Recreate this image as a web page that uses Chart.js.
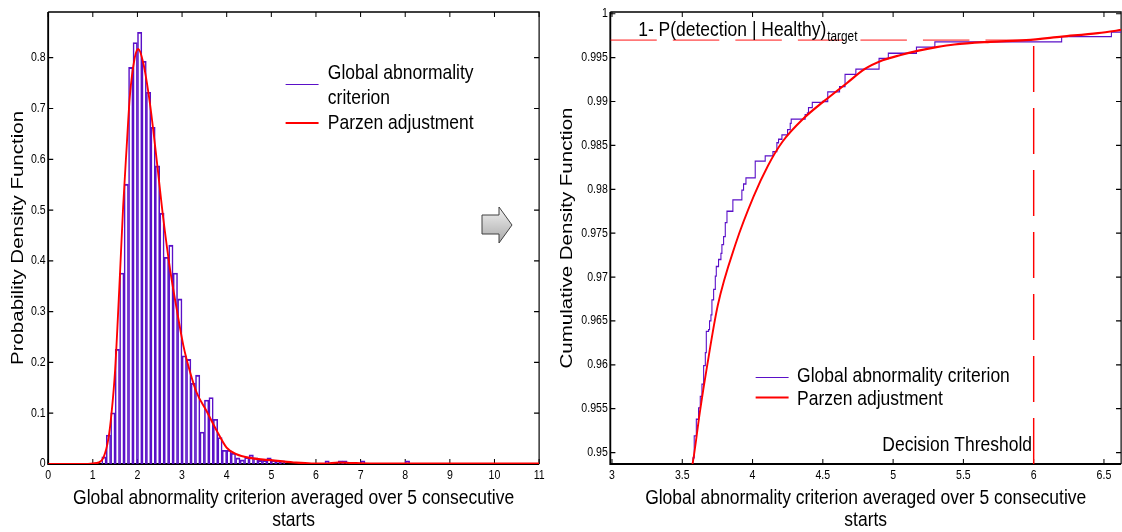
<!DOCTYPE html>
<html>
<head>
<meta charset="utf-8">
<script src="https://cdn.jsdelivr.net/npm/chart.js@4.4.1/dist/chart.umd.min.js"></script>
<style>
  body { margin: 0; background: #fff; }
  #wrap { position: relative; width: 1122px; height: 532px; overflow: hidden; }
  #left { position: absolute; left: 0; top: 0; }
  #right { position: absolute; left: 552px; top: 0; }
  #arrow { position: absolute; left: 478px; top: 200px; }
</style>
</head>
<body>
<div id="wrap">
  <canvas id="left" width="663" height="532"></canvas>
  <canvas id="right" width="675" height="532"></canvas>
  <svg id="arrow" width="40" height="50">
    <defs>
      <linearGradient id="ag" x1="0" y1="0" x2="0" y2="1">
        <stop offset="0" stop-color="#f2f2f2"/>
        <stop offset="1" stop-color="#a8a8a8"/>
      </linearGradient>
    </defs>
    <polygon points="4,15 21,15 21,7 34,25 21,43 21,34 4,34" fill="url(#ag)" stroke="#404040" stroke-width="1"/>
  </svg>
</div>
<script>
'use strict';

// DATA - left (pdf)
var seriesNames = ['Global abnormality criterion', 'Parzen adjustment'];
var xTitle = ['Global abnormality criterion averaged over 5 consecutive', 'starts'];

var binCenters = [1.25, 1.35, 1.45, 1.55, 1.65, 1.75, 1.85, 1.95, 2.05, 2.15,
  2.25, 2.35, 2.45, 2.55, 2.65, 2.75, 2.85, 2.95, 3.05, 3.15,
  3.25, 3.35, 3.45, 3.55, 3.65, 3.75, 3.85, 3.95, 4.05, 4.15,
  4.25, 4.35, 4.45, 4.55, 4.65, 4.75, 4.85, 4.95, 5.05, 5.15,
  5.25, 6.25, 6.55, 6.65, 7.05, 8.05];
var binHeights = [0.014, 0.057, 0.101, 0.226, 0.376, 0.551, 0.781, 0.830, 0.850, 0.793,
  0.732, 0.663, 0.587, 0.494, 0.407, 0.431, 0.376, 0.325, 0.213, 0.206,
  0.159, 0.175, 0.063, 0.126, 0.131, 0.088, 0.052, 0.027, 0.027, 0.021,
  0.012, 0.008, 0.013, 0.018, 0.012, 0.007, 0.007, 0.012, 0.007, 0.006,
  0.006, 0.006, 0.006, 0.006, 0.006, 0.006];

var pdfX = [0, 0.8, 1.0, 1.13, 1.24, 1.35, 1.42, 1.5, 1.61, 1.68, 1.76, 1.83, 1.94, 2.02,
  2.13, 2.28, 2.43, 2.58, 2.73, 2.88, 3.03, 3.18, 3.33, 3.55, 3.78, 4.0, 4.22, 4.52,
  5.04, 5.5, 5.9, 6.2, 6.5, 6.8, 7.2, 8, 11];
var pdfY = [0, 0, 0.001, 0.003, 0.013, 0.05, 0.1, 0.185, 0.376, 0.507, 0.626, 0.724, 0.80, 0.817,
  0.79, 0.71, 0.60, 0.483, 0.384, 0.305, 0.233, 0.181, 0.14, 0.104, 0.065, 0.032, 0.019, 0.012,
  0.007, 0.003, 0.001, 0.001, 0.003, 0.002, 0.001, 0.001, 0.001];

var xTicksL = [0, 1, 2, 3, 4, 5, 6, 7, 8, 9, 10, 11];
var yTicksL = [0, 0.1, 0.2, 0.3, 0.4, 0.5, 0.6, 0.7, 0.8];

// DATA - right (cdf)
var ecdfX = [3.569, 3.576, 3.585, 3.600, 3.616, 3.628, 3.640, 3.652, 3.664, 3.671,
  3.687, 3.694, 3.704, 3.711, 3.723, 3.735, 3.742, 3.758, 3.775, 3.782,
  3.794, 3.806, 3.818, 3.860, 3.924, 3.936, 3.953, 4.019, 4.090, 4.145,
  4.173, 4.185, 4.209, 4.249, 4.268, 4.275, 4.374, 4.390, 4.398, 4.425,
  4.499, 4.535, 4.619, 4.658, 4.735, 4.900, 4.966, 5.166, 5.297, 6.199,
  6.553, 6.65];
var ecdfY = [0.9489, 0.9494, 0.9519, 0.9538, 0.9551, 0.9564, 0.9578, 0.9599, 0.9614, 0.9638,
  0.9640, 0.9650, 0.9657, 0.9674, 0.9686, 0.9701, 0.9712, 0.9720, 0.9727, 0.9737,
  0.9746, 0.9762, 0.9775, 0.9788, 0.9799, 0.9806, 0.9813, 0.9832, 0.9838, 0.9843,
  0.9853, 0.9857, 0.9862, 0.9868, 0.9875, 0.9880, 0.9885, 0.9887, 0.9893, 0.9899,
  0.9900, 0.9911, 0.9917, 0.9931, 0.9937, 0.9949, 0.9955, 0.9962, 0.9968, 0.9974,
  0.9979, 0.9979];

var cdfX = [3.56, 3.574, 3.625, 3.676, 3.753, 3.880, 4.008, 4.110, 4.212, 4.365, 4.505,
  4.671, 4.798, 4.926, 5.054, 5.181, 5.309, 5.436, 5.691, 5.946, 6.201, 6.457, 6.65];
var cdfY = [0.9480, 0.9488, 0.9546, 0.9598, 0.9668, 0.9738, 0.9792, 0.9827, 0.9854, 0.9881, 0.9900,
  0.9921, 0.9937, 0.9947, 0.9953, 0.9958, 0.9962, 0.9965, 0.9968, 0.9970, 0.9974, 0.9978, 0.9982];

var targetLevel = 0.997;   // 1 - P(detection | Healthy) target
var threshold = 6;         // decision threshold
var xTicksR = [3, 3.5, 4, 4.5, 5, 5.5, 6, 6.5];
var yTicksR = [0.95, 0.955, 0.96, 0.965, 0.97, 0.975, 0.98, 0.985, 0.99, 0.995, 1];
var xMinR = 2.988, xMaxR = 6.622, yMinR = 0.9487, yMaxR = 1.0002;

// STYLE
var PURPLE = '#5a10c8';
var RED = '#ff0000';
var FONT = "'Liberation Sans', Arial, sans-serif";
var SQUEEZE = 0.845; // the original figure is squeezed horizontally

Chart.defaults.color = '#000';
Chart.defaults.font.family = FONT;

function pts(xs, ys) {
  return xs.map(function(x, i) { return { x: x, y: ys[i] }; });
}
function fixTicks(list) {
  return function(scale) {
    scale.ticks = list.map(function(v) { return { value: v }; });
  };
}
// lay out wide, then redraw into a narrower canvas with a squeezed context
function squeeze(chart) {
  var c = chart.canvas;
  var w = Math.round(chart.width * SQUEEZE);
  c.width = w;
  c.height = chart.height;
  c.style.width = w + 'px';
  c.style.height = chart.height + 'px';
  chart.ctx.setTransform(SQUEEZE, 0, 0, 1, 0, 0);
  chart.draw();
}

// FRAME + INWARD TICKS (matlab look)
var frameTicks = {
  id: 'frameTicks',
  beforeDatasetsDraw: function(chart) {
    var ctx = chart.ctx, a = chart.chartArea;
    var xs = chart.scales.x, ys = chart.scales.y;
    ctx.save();
    ctx.strokeStyle = '#000';
    ctx.lineWidth = 1.2;
    ctx.beginPath();
    xs.ticks.forEach(function(t) {
      var px = xs.getPixelForValue(t.value);
      ctx.moveTo(px, a.bottom); ctx.lineTo(px, a.bottom - 5);
      ctx.moveTo(px, a.top); ctx.lineTo(px, a.top + 5);
    });
    ys.ticks.forEach(function(t) {
      var py = ys.getPixelForValue(t.value);
      ctx.moveTo(a.left, py); ctx.lineTo(a.left + 6, py);
      ctx.moveTo(a.right, py); ctx.lineTo(a.right - 6, py);
    });
    ctx.stroke();
    ctx.lineWidth = 1.4;
    ctx.beginPath();
    ctx.moveTo(a.left, a.top); ctx.lineTo(a.right, a.top); ctx.lineTo(a.right, a.bottom);
    ctx.stroke();
    ctx.lineWidth = 2.2;
    ctx.beginPath();
    ctx.moveTo(a.left, a.top); ctx.lineTo(a.left, a.bottom); ctx.lineTo(a.right, a.bottom);
    ctx.stroke();
    ctx.restore();
  }
};

function legendLine(ctx, x1, x2, y, color, width) {
  ctx.strokeStyle = color;
  ctx.lineWidth = width;
  ctx.beginPath();
  ctx.moveTo(x1, y); ctx.lineTo(x2, y);
  ctx.stroke();
}

// LEFT LEGEND
var leftNotes = {
  id: 'leftNotes',
  afterDraw: function(chart) {
    var ctx = chart.ctx;
    ctx.save();
    ctx.font = '20.7px ' + FONT;
    ctx.fillStyle = '#000';
    ctx.textBaseline = 'middle';
    legendLine(ctx, 338, 377, 84.5, PURPLE, 1.2);
    legendLine(ctx, 338, 377, 123, RED, 2.2);
    ctx.fillText('Global abnormality', 388, 73);
    ctx.fillText('criterion', 388, 98);
    ctx.fillText(seriesNames[1], 388, 123);
    ctx.restore();
  }
};

// RIGHT LEGEND + ANNOTATIONS
var rightNotes = {
  id: 'rightNotes',
  afterDraw: function(chart) {
    var ctx = chart.ctx;
    var xs = chart.scales.x;
    ctx.save();
    ctx.fillStyle = '#000';
    ctx.textBaseline = 'middle';
    ctx.font = '20.7px ' + FONT;
    legendLine(ctx, 241, 280, 377.5, PURPLE, 1.2);
    legendLine(ctx, 241, 280, 397.5, RED, 2.2);
    ctx.fillText(seriesNames[0], 290, 376);
    ctx.fillText(seriesNames[1], 290, 399);

    var t1 = '1- P(detection | Healthy)';
    ctx.fillText(t1, 102, 30);
    var w = ctx.measureText(t1).width;
    ctx.font = '14px ' + FONT;
    ctx.fillText('target', 102 + w + 1, 37);

    ctx.font = '20.7px ' + FONT;
    ctx.textAlign = 'right';
    ctx.fillText('Decision Threshold', xs.getPixelForValue(threshold) - 2, 445);
    ctx.restore();
  }
};

// LEFT CHART - PDF
var leftChart = new Chart(document.getElementById('left'), {
  type: 'bar',
  data: {
    datasets: [{
      type: 'line',
      label: seriesNames[1],
      data: pts(pdfX, pdfY),
      borderColor: RED,
      borderWidth: 2.2,
      pointRadius: 0,
      cubicInterpolationMode: 'monotone',
      order: 0
    }, {
      label: seriesNames[0],
      data: pts(binCenters, binHeights),
      backgroundColor: 'rgba(255,255,255,0)',
      borderColor: PURPLE,
      borderWidth: 1.2,
      barPercentage: 1,
      categoryPercentage: 1,
      order: 1
    }]
  },
  options: {
    responsive: false,
    animation: false,
    devicePixelRatio: 1,
    layout: { padding: { left: 0, right: 25, top: 12, bottom: 0 } },
    plugins: { legend: { display: false }, tooltip: { enabled: false } },
    scales: {
      x: {
        type: 'linear', min: 0, max: 11, offset: false,
        afterBuildTicks: fixTicks(xTicksL),
        afterFit: function(s) { s.height = 68; },
        grid: { display: false, drawTicks: false },
        border: { display: false },
        ticks: { padding: 4, font: { size: 12.5 }, maxRotation: 0,
          callback: function(v) { return String(v); } },
        title: { display: true, text: xTitle, font: { size: 20.7, lineHeight: 1.1 },
          padding: { top: 0, bottom: 0 } }
      },
      y: {
        type: 'linear', min: 0, max: 0.89,
        afterBuildTicks: fixTicks(yTicksL),
        afterFit: function(s) { s.width = 57; },
        grid: { display: false, drawTicks: false },
        border: { display: false },
        ticks: { padding: 3, font: { size: 12.5 },
          callback: function(v) { return String(v); } },
        title: { display: true, text: 'Probability Density Function',
          font: { size: 20.5, lineHeight: 1.2 },
          padding: { top: 9, bottom: 0 } }
      }
    }
  },
  plugins: [frameTicks, leftNotes]
});

// RIGHT CHART - CDF
var rightChart = new Chart(document.getElementById('right'), {
  type: 'line',
  data: {
    datasets: [{
      label: seriesNames[1],
      data: pts(cdfX, cdfY),
      borderColor: RED,
      borderWidth: 2.2,
      pointRadius: 0,
      cubicInterpolationMode: 'monotone',
      order: 0
    }, {
      label: seriesNames[0],
      data: pts(ecdfX, ecdfY),
      borderColor: PURPLE,
      borderWidth: 1.3,
      pointRadius: 0,
      stepped: true,
      order: 1
    }, {
      label: 'target',
      data: [{ x: xMinR, y: targetLevel }, { x: threshold, y: targetLevel }],
      borderColor: RED,
      borderWidth: 1,
      borderDash: [55, 19],
      pointRadius: 0,
      order: 2
    }, {
      label: 'threshold',
      data: [{ x: threshold, y: yMinR }, { x: threshold, y: targetLevel }],
      borderColor: RED,
      borderWidth: 1.7,
      borderDash: [46, 16],
      pointRadius: 0,
      order: 2
    }]
  },
  options: {
    responsive: false,
    animation: false,
    devicePixelRatio: 1,
    layout: { padding: { left: 0, right: 1.5, top: 12, bottom: 0 } },
    plugins: { legend: { display: false }, tooltip: { enabled: false } },
    scales: {
      x: {
        type: 'linear', min: xMinR, max: xMaxR,
        afterBuildTicks: fixTicks(xTicksR),
        afterFit: function(s) { s.height = 68; },
        grid: { display: false, drawTicks: false },
        border: { display: false },
        ticks: { padding: 4, font: { size: 12.5 }, maxRotation: 0,
          callback: function(v) { return String(v); } },
        title: { display: true, text: xTitle, font: { size: 20.7, lineHeight: 1.1 },
          padding: { top: 0, bottom: 0 } }
      },
      y: {
        type: 'linear', min: yMinR, max: yMaxR,
        afterBuildTicks: fixTicks(yTicksR),
        afterFit: function(s) { s.width = 69; },
        grid: { display: false, drawTicks: false },
        border: { display: false },
        ticks: { padding: 3, font: { size: 12.5 },
          callback: function(v) { return String(v); } },
        title: { display: true, text: 'Cumulative Density Function',
          font: { size: 20.5, lineHeight: 1.2 },
          padding: { top: 6, bottom: 0 } }
      }
    }
  },
  plugins: [frameTicks, rightNotes]
});

squeeze(leftChart);
squeeze(rightChart);
</script>
</body>
</html>
